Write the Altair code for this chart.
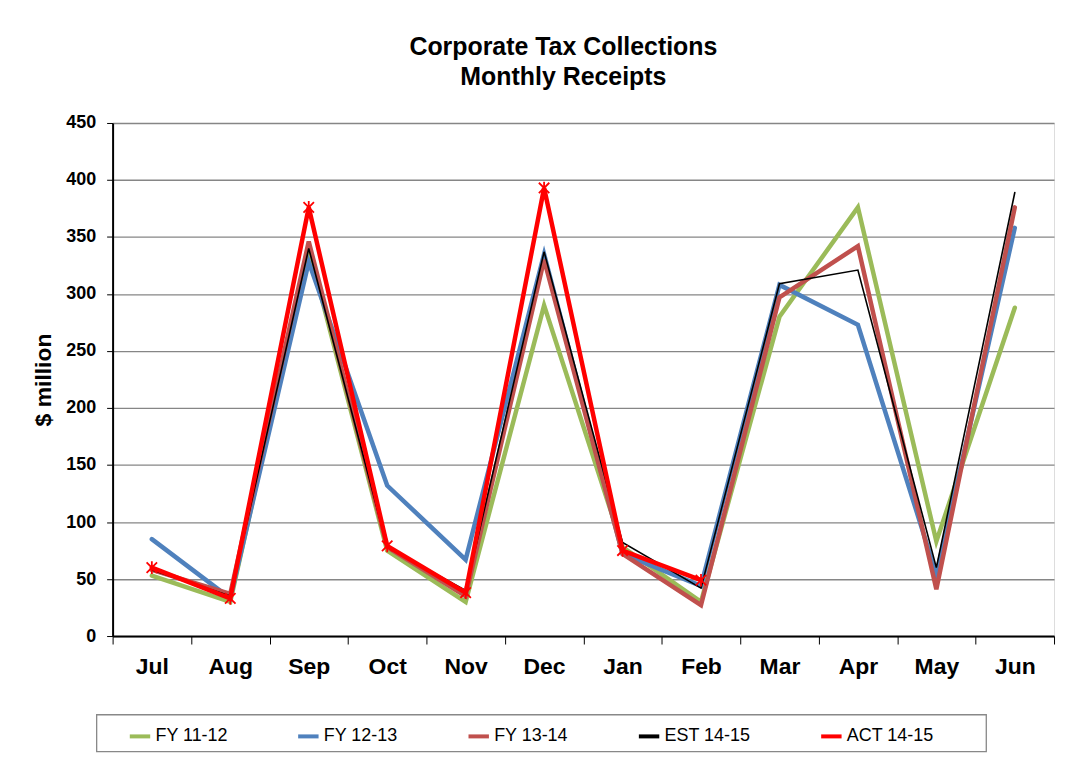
import altair as alt
import pandas as pd

months = ["Jul", "Aug", "Sep", "Oct", "Nov", "Dec", "Jan", "Feb", "Mar", "Apr", "May", "Jun"]
series_names = ["FY 11-12", "FY 12-13", "FY 13-14", "EST 14-15", "ACT 14-15"]
colors = ["#9BBB59", "#4F81BD", "#C0504D", "#000000", "#FF0000"]

fy1112 = [53, 30, 340, 75, 30, 290, 78, 30, 280, 376, 83, 288]
fy1213 = [85, 33, 328, 132, 67, 335, 72, 44, 308, 273, 54, 358]
fy1314 = [58, 37, 346, 78, 35, 330, 72, 27, 297, 342, 41, 376]
est1415 = [58, 35, 340, 78, 40, 337, 82, 42, 309, 321, 60, 389]
act1415 = [60, 33, 376, 79, 38, 393, 75, 49]

rows = []
for name, vals in zip(series_names, [fy1112, fy1213, fy1314, est1415, act1415]):
    for i, v in enumerate(vals):
        rows.append({"month": months[i], "series": name, "value": v})
df = pd.DataFrame(rows)

FONT = "Liberation Sans"

x_enc = alt.X("month:N", sort=months, bandPosition=0.5,
              scale=alt.Scale(type="band", paddingInner=0, paddingOuter=0),
              axis=alt.Axis(title=None, tickBand="extent", labelAngle=0, labelFontSize=23,
                            labelFontWeight="bold", labelColor="black", labelPadding=12, tickSize=8,
                            tickColor="black", domainColor="black", domainWidth=2, grid=False,
                            labelFont=FONT))
y_enc = alt.Y("value:Q", scale=alt.Scale(domain=[0, 450], nice=False),
              axis=alt.Axis(title="$ million", titleFontSize=23, titleFontWeight="bold", titleFont=FONT,
                            titleColor="black", titlePadding=10, values=list(range(0, 451, 50)),
                            labelFontSize=18, labelFontWeight="bold", labelColor="black", labelFont=FONT,
                            labelPadding=11, tickSize=6, tickColor="black", domainColor="black",
                            domainWidth=2, gridColor="#868686", gridWidth=1.3))

lines = alt.Chart(df).mark_line(strokeCap="round", strokeJoin="miter").encode(
    x=x_enc,
    y=y_enc,
    color=alt.Color("series:N", sort=series_names,
                    scale=alt.Scale(domain=series_names, range=colors),
                    legend=alt.Legend(title=None, orient="none", legendX=15, legendY=603,
                                      direction="horizontal", symbolType="stroke",
                                      symbolSize=420, symbolStrokeWidth=4,
                                      labelFontSize=18, labelFont=FONT, labelColor="black",
                                      labelOffset=3, columnPadding=62, padding=0)),
    strokeWidth=alt.condition(alt.datum.series == "EST 14-15", alt.value(1.6), alt.value(4.5)),
    detail="series:N",
)

star_path = "M-1,-1L1,1M-1,1L1,-1M0,-1.2L0,1.2"
stars = alt.Chart(df[df["series"] == "ACT 14-15"]).mark_point(
    shape=star_path, filled=False, color="#FF0000", size=110, strokeWidth=1.8, opacity=1
).encode(x=x_enc, y=y_enc)

legend_box = alt.Chart(pd.DataFrame({"k": [0]})).mark_rect(
    fill="white", stroke="#888888", strokeWidth=1.3
).encode(x=alt.value(-16), x2=alt.value(877), y=alt.value(594), y2=alt.value(631))

chart = alt.layer(legend_box, lines, stars).properties(
    width=945, height=515,
    title=alt.TitleParams(text=["Corporate Tax Collections", "Monthly Receipts"], fontSize=25,
                          font=FONT, fontWeight="bold", color="black", anchor="middle",
                          dx=-20, offset=24, lineHeight=30),
    autosize=alt.AutoSizeParams(type="none"),
    padding={"left": 105, "top": 114, "right": 8, "bottom": 118},
).configure_view(stroke="#868686", strokeWidth=1.3).configure(background="white")

chart.save("out.html", embed_options={"renderer": "svg", "actions": False})
